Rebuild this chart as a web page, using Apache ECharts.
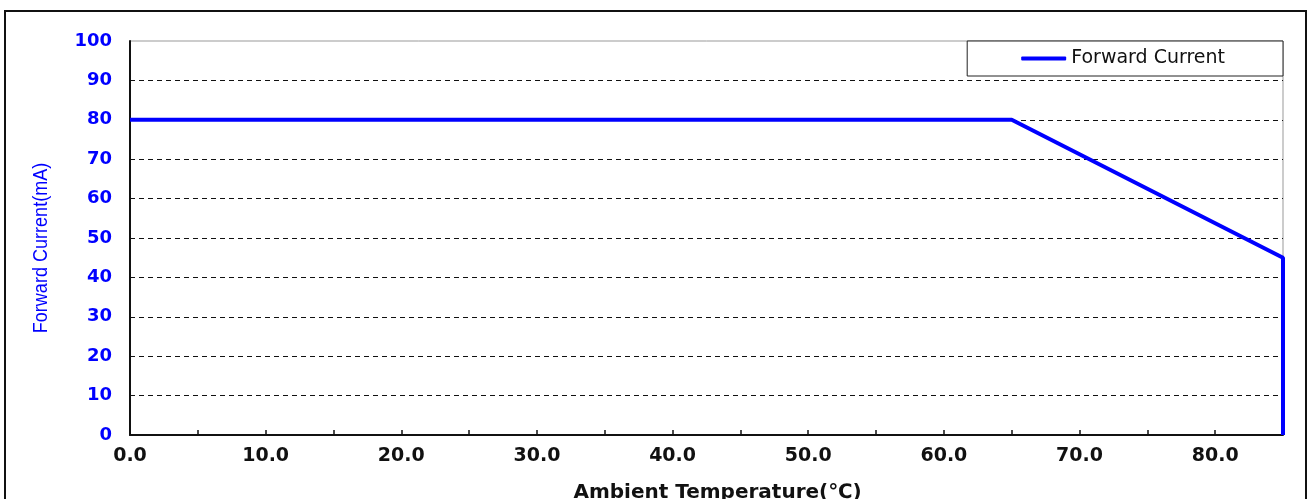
<!DOCTYPE html>
<html>
<head>
<meta charset="utf-8">
<style>
html,body{margin:0;padding:0;background:#fff;}
#c{width:1313px;height:499px;}
</style>
<script src="https://cdn.jsdelivr.net/npm/echarts@6/dist/echarts.min.js"></script>
</head>
<body>
<div id="c"></div>
<script>
const temperatures = [0, 65, 85, 85];
const forwardCurrent = [80, 80, 45, 0];
const seriesName = 'Forward Current';
const xAxisTitle = 'Ambient Temperature(℃)';
const yAxisTitle = 'Forward Current(mA)';

const chart = echarts.init(document.getElementById('c'));
chart.setOption({
  animation: false,
  backgroundColor: '#fff',
  graphic: [{
    type: 'rect',
    shape: { x: 5, y: 11, width: 1301, height: 500 },
    style: { fill: 'none', stroke: '#111', lineWidth: 2 },
    silent: true
  }, {
    type: 'text',
    x: 41, y: 248,
    rotation: Math.PI / 2,
    scaleX: 0.86,
    style: {
      text: yAxisTitle,
      fontFamily: 'Liberation Sans', fontSize: 21, fill: '#0000ff',
      textAlign: 'center', textVerticalAlign: 'middle'
    },
    silent: true
  }],
  grid: {
    left: 130, right: 30, top: 41, bottom: 64,
    outerBoundsMode: 'none', containLabel: false,
    show: true, borderColor: '#999', borderWidth: 1, backgroundColor: 'transparent'
  },
  legend: {
    right: 30, top: 41,
    data: [seriesName],
    icon: 'roundRect',
    backgroundColor: '#fff',
    borderColor: '#222', borderWidth: 1, borderRadius: 0,
    padding: [8, 58, 8, 54],
    itemWidth: 45, itemHeight: 4, itemGap: 4,
    textStyle: { fontFamily: 'DejaVu Sans', fontSize: 19, color: '#111' }
  },
  xAxis: {
    type: 'value', min: 0, max: 85, interval: 5,
    name: xAxisTitle, nameLocation: 'middle', nameGap: 48,
    nameTextStyle: { fontFamily: 'DejaVu Sans', fontWeight: 'bold', fontSize: 20, color: '#111', padding: [0, 0, 0, 22] },
    axisLine: { show: true, lineStyle: { color: '#111', width: 2 } },
    axisTick: { show: true, inside: true, length: 5, lineStyle: { color: '#111', width: 1.5 } },
    axisLabel: {
      margin: 12, fontFamily: 'DejaVu Sans', fontWeight: 'bold', fontSize: 19, color: '#111',
      showMaxLabel: false,
      formatter: v => (v % 10 === 0 ? v.toFixed(1) : '')
    },
    splitLine: { show: false }
  },
  yAxis: {
    type: 'value', min: 0, max: 100, interval: 10,
    axisLine: { show: true, lineStyle: { color: '#111', width: 2 } },
    axisTick: { show: false },
    axisLabel: { margin: 18, fontFamily: 'DejaVu Sans', fontWeight: 'bold', fontSize: 18, color: '#0000ff' },
    splitLine: { show: true, showMaxLine: false, lineStyle: { color: '#111', type: [5, 4], width: 1 } }
  },
  series: [{
    name: seriesName,
    type: 'line',
    data: temperatures.map((t, i) => [t, forwardCurrent[i]]),
    symbol: 'none',
    lineStyle: { color: '#0000ff', width: 4 },
    itemStyle: { color: '#0000ff' },
    clip: true
  }]
});
</script>
</body>
</html>
